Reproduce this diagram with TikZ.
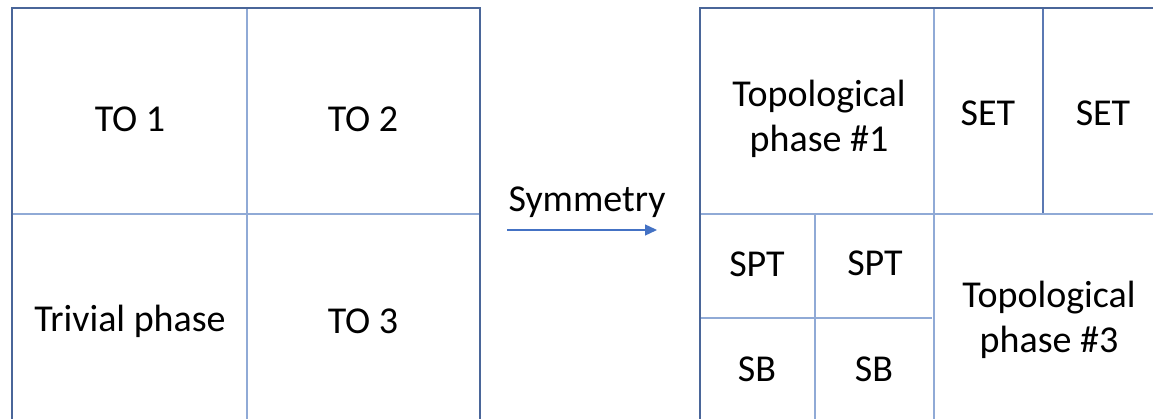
\documentclass[tikz,border=0pt]{standalone}
\usepackage{fontspec}
\setmainfont{Carlito}
\usetikzlibrary{arrows.meta}
\definecolor{outerblue}{HTML}{4A6699}
\definecolor{innerblue}{HTML}{90AAD6}
\definecolor{midblue}{HTML}{5B79B3}
\definecolor{arrowblue}{HTML}{4472C4}
\tikzset{
  outer/.style={draw=outerblue, line width=2.2pt},
  inner/.style={draw=innerblue, line width=1.2pt},
  innermid/.style={draw=midblue, line width=1.2pt},
  lbl/.style={font=\fontsize{38}{45}\selectfont, align=center, text=black, inner sep=0pt},
}
\begin{document}
\begin{tikzpicture}[x=1pt, y=-1pt]
\useasboundingbox[fill=white] (0,0) rectangle (1153,419);
% left square
\draw[inner] (247,8) -- (247,425);
\draw[inner] (12,214) -- (480,214);
\draw[outer] (12,425) -- (12,8) -- (480,8) -- (480,425);
% right square
\draw[inner] (934,8) -- (934,425);
\draw[innermid] (1043,8) -- (1043,214);
\draw[inner] (700,214) -- (1160,214);
\draw[inner] (815,214) -- (815,425);
\draw[inner] (700,318) -- (932,318);
\draw[outer] (700,425) -- (700,8) -- (1160,8);
% labels
\node[lbl] (to1) at (130,119) {TO 1};
\node[lbl] (to2) at (363,119) {TO 2};
\node[lbl] (triv) at (130,321) {Trivial phase};
\node[lbl] (to3) at (363,321) {TO 3};
\node[lbl] (tp1) at (819,119) {Topological\\phase \#1};
\node[lbl] (set1) at (988,113) {SET};
\node[lbl] (set2) at (1103,113) {SET};
\node[lbl] (spt1) at (757,264) {SPT};
\node[lbl] (spt2) at (875,263) {SPT};
\node[lbl] (sb1) at (757,369) {SB};
\node[lbl] (sb2) at (874,369) {SB};
\node[lbl] (tp3) at (1049,320) {Topological\\phase \#3};
% arrow
\node[lbl] (sym) at (587,202) {Symmetry};
\coordinate (a0) at (507,230);
\coordinate (a1) at (657,230);
\draw[draw=arrowblue, line width=1.3pt, -{Triangle[length=12pt,width=11pt]}] (a0) -- (a1);
\end{tikzpicture}
\end{document}
